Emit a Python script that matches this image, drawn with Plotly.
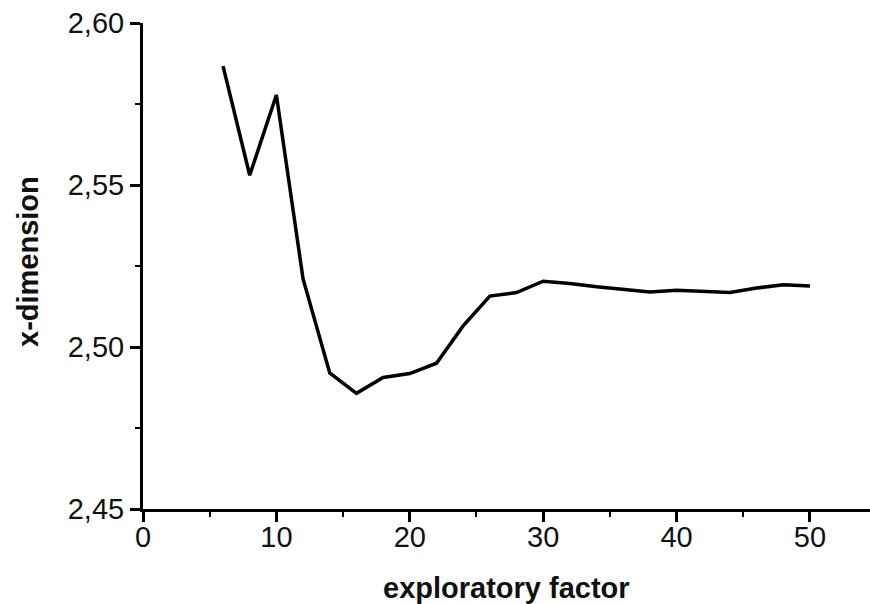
import plotly.graph_objects as go

exploratory_factor = [6, 8, 10, 12, 14, 16, 18, 20, 22, 24, 26, 28, 30, 32, 34, 36, 38, 40, 42, 44, 46, 48, 50]
x_dimension = [2.5867, 2.5530, 2.5778, 2.5210, 2.4920, 2.4857, 2.4906, 2.4918, 2.4950, 2.5065,
               2.5157, 2.5168, 2.5203, 2.5196, 2.5186, 2.5178, 2.5170, 2.5175, 2.5172, 2.5168,
               2.5182, 2.5192, 2.5188]
x_ticks = [0, 10, 20, 30, 40, 50]
y_ticks = [2.45, 2.50, 2.55, 2.60]

FONT = "Liberation Sans, Arial, sans-serif"

W, H = 870, 604
L, T = 143, 23
B = 604 - 509
plot_w = W - L
plot_h = H - T - B

fig = go.Figure()
fig.add_trace(go.Scatter(
    x=exploratory_factor, y=x_dimension, mode="lines",
    line=dict(color="black", width=3.5), showlegend=False, hoverinfo="skip"))

fig.update_layout(
    width=W, height=H,
    margin=dict(l=L, r=0, t=T, b=B),
    paper_bgcolor="white", plot_bgcolor="white",
    separators=",.",
    font=dict(family=FONT, size=29, color="#111"),
    xaxis=dict(
        range=[0, 54.5], tickvals=x_ticks, ticks="outside", ticklen=10, tickwidth=2.5,
        tickcolor="black", showline=True, linecolor="black", linewidth=3,
        showgrid=False, zeroline=False, ticklabeloverflow="allow",
        ticklabelstandoff=-10,
        minor=dict(ticks="outside", ticklen=5, tickwidth=2, tickcolor="black", dtick=5, tick0=0, showgrid=False),
        tickfont=dict(family=FONT, size=29, color="#111"),
    ),
    yaxis=dict(
        range=[2.45, 2.60], tickvals=y_ticks, tickformat=".2f", ticks="outside", ticklen=10,
        tickwidth=2.5, tickcolor="black", showline=True, linecolor="black", linewidth=3,
        showgrid=False, zeroline=False, ticklabeloverflow="allow",
        minor=dict(ticks="outside", ticklen=5, tickwidth=2, tickcolor="black", dtick=0.025, tick0=2.45, showgrid=False),
        tickfont=dict(family=FONT, size=29, color="#111"),
    ),
    annotations=[
        dict(text="<b>exploratory factor</b>", xref="paper", yref="paper", x=0.5, y=-(588 - 509) / plot_h,
             xanchor="center", yanchor="middle", showarrow=False, font=dict(family=FONT, size=29, color="#111")),
        dict(text="<b>x-dimension</b>", xref="paper", yref="paper", x=-(143 - 28) / plot_w, y=(509 - 262) / plot_h,
             xanchor="center", yanchor="middle", textangle=-90, showarrow=False,
             font=dict(family=FONT, size=29, color="#111")),
    ],
)

fig.write_html("out.html", config={"displayModeBar": False},
               post_script="document.body.style.margin='0';document.body.style.overflow='hidden';")
